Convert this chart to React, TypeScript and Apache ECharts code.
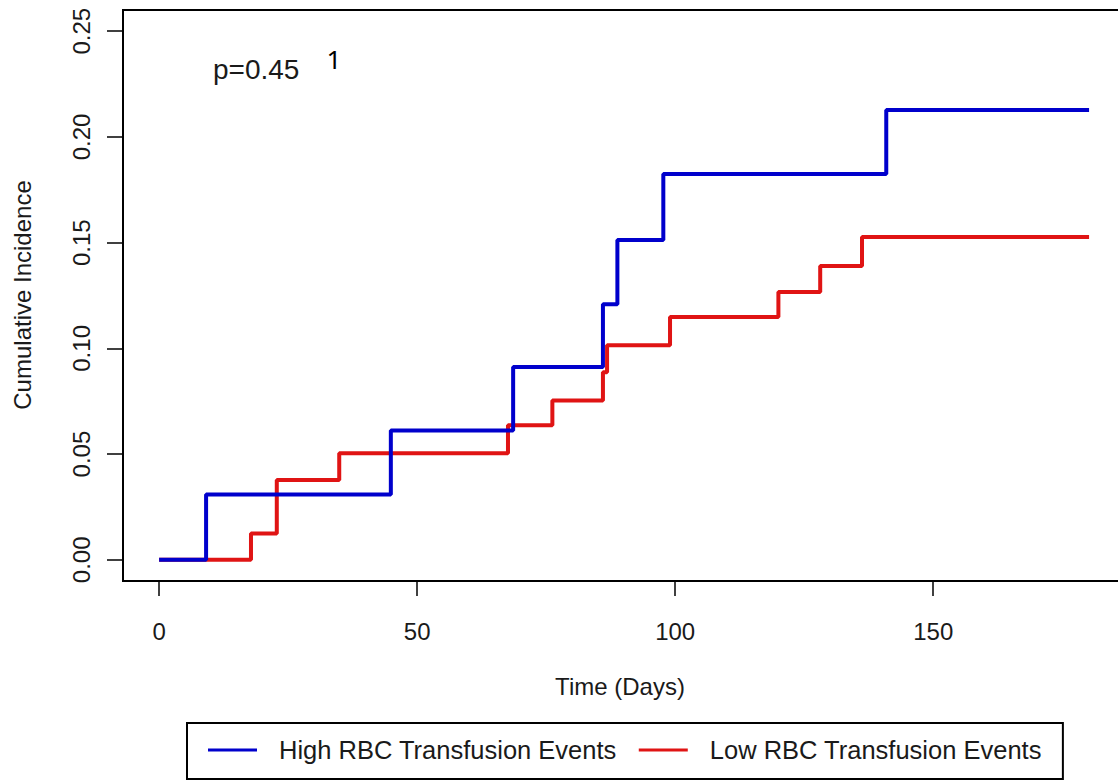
import React, { useEffect, useRef } from "react";
import * as echarts from "echarts";

const highDays = [0, 9.1, 44.9, 68.6, 86.0, 88.8, 97.7, 140.9, 180.2];
const highValues = [0, 0.0309, 0.0612, 0.0912, 0.1209, 0.1512, 0.1824, 0.2127, 0.2127];

const lowDays = [0, 17.8, 22.8, 34.9, 67.6, 76.2, 86.0, 86.8, 99.0, 120.0, 128.1, 136.2, 180.2];
const lowValues = [0, 0.0125, 0.0378, 0.0504, 0.0636, 0.0754, 0.0887, 0.1015, 0.1148, 0.1267, 0.139, 0.1527, 0.1527];

const xTicks = [0, 50, 100, 150];
const yTicks = [0, 0.05, 0.1, 0.15, 0.2, 0.25];

const highName = "High RBC Transfusion Events";
const lowName = "Low RBC Transfusion Events";

const FONT = "'Liberation Sans', Arial, Helvetica, sans-serif";
const BLUE = "#0000cc";
const RED = "#e01414";

export default function App() {
  const ref = useRef<HTMLDivElement>(null);

  useEffect(() => {
    if (!ref.current) return;
    const chart = echarts.init(ref.current, undefined, { renderer: "svg" });
    const highData = highDays.map((d, i) => [d, highValues[i]]);
    const lowData = lowDays.map((d, i) => [d, lowValues[i]]);

    chart.setOption({
      animation: false,
      backgroundColor: "#ffffff",
      grid: {
        left: 123,
        top: 10,
        width: 1012,
        height: 571,
        show: true,
        borderColor: "#000",
        borderWidth: 2,
        backgroundColor: "transparent",
      },
      xAxis: {
        type: "value",
        min: -7,
        max: 189.1,
        axisLine: { show: false, onZero: false },
        splitLine: { show: false },
        axisTick: {
          show: true,
          length: 15,
          lineStyle: { color: "#000", width: 1.5 },
          customValues: xTicks,
        },
        axisLabel: {
          customValues: xTicks,
          fontSize: 24,
          fontFamily: FONT,
          color: "#1a1a1a",
          margin: 38,
        },
      },
      yAxis: {
        type: "value",
        min: -0.01,
        max: 0.26,
        axisLine: { show: false, onZero: false },
        splitLine: { show: false },
        axisTick: {
          show: true,
          length: 16,
          lineStyle: { color: "#000", width: 1.5 },
          customValues: yTicks,
        },
        axisLabel: {
          customValues: yTicks,
          rotate: 90,
          fontSize: 24,
          fontFamily: FONT,
          color: "#1a1a1a",
          margin: 30,
          formatter: (v: number) => v.toFixed(2),
        },
      },
      legend: {
        left: 187,
        top: 723,
        orient: "horizontal",
        borderColor: "#000",
        borderWidth: 2,
        backgroundColor: "#fff",
        padding: [14, 21, 16, 21],
        itemGap: 22,
        itemWidth: 49,
        itemHeight: 3,
        icon: "rect",
        textStyle: {
          fontSize: 25.5,
          fontFamily: FONT,
          color: "#1a1a1a",
          padding: [0, 0, 0, 17],
        },
        data: [highName, lowName],
      },
      graphic: [
        {
          type: "text",
          x: 213,
          y: 69,
          style: {
            text: "p=0.45",
            fontSize: 28,
            fontFamily: FONT,
            fill: "#1a1a1a",
            align: "left",
            verticalAlign: "middle",
          },
        },
        {
          type: "text",
          x: 334,
          y: 59,
          style: {
            text: "1",
            fontSize: 26,
            fontFamily: "'Noto Sans', 'DejaVu Sans', sans-serif",
            fill: "#000",
            align: "center",
            verticalAlign: "middle",
          },
        },
        {
          type: "text",
          x: 620,
          y: 686,
          style: {
            text: "Time (Days)",
            fontSize: 24,
            fontFamily: FONT,
            fill: "#1a1a1a",
            align: "center",
            verticalAlign: "middle",
          },
        },
        {
          type: "text",
          x: 22,
          y: 295,
          rotation: Math.PI / 2,
          style: {
            text: "Cumulative Incidence",
            fontSize: 24,
            fontFamily: FONT,
            fill: "#1a1a1a",
            align: "center",
            verticalAlign: "middle",
          },
        },
      ],
      series: [
        {
          name: highName,
          type: "line",
          step: "end",
          data: highData,
          showSymbol: false,
          symbol: "none",
          color: BLUE,
          lineStyle: { color: BLUE, width: 4 },
          z: 3,
        },
        {
          name: lowName,
          type: "line",
          step: "end",
          data: lowData,
          showSymbol: false,
          symbol: "none",
          color: RED,
          lineStyle: { color: RED, width: 4 },
          z: 2,
        },
      ],
    });

    return () => chart.dispose();
  }, []);

  return (
    <div
      style={{
        position: "fixed",
        left: 0,
        top: 0,
        width: 1118,
        height: 780,
        overflow: "hidden",
        background: "#fff",
      }}
    >
      <div ref={ref} style={{ width: 1160, height: 780 }} />
    </div>
  );
}
